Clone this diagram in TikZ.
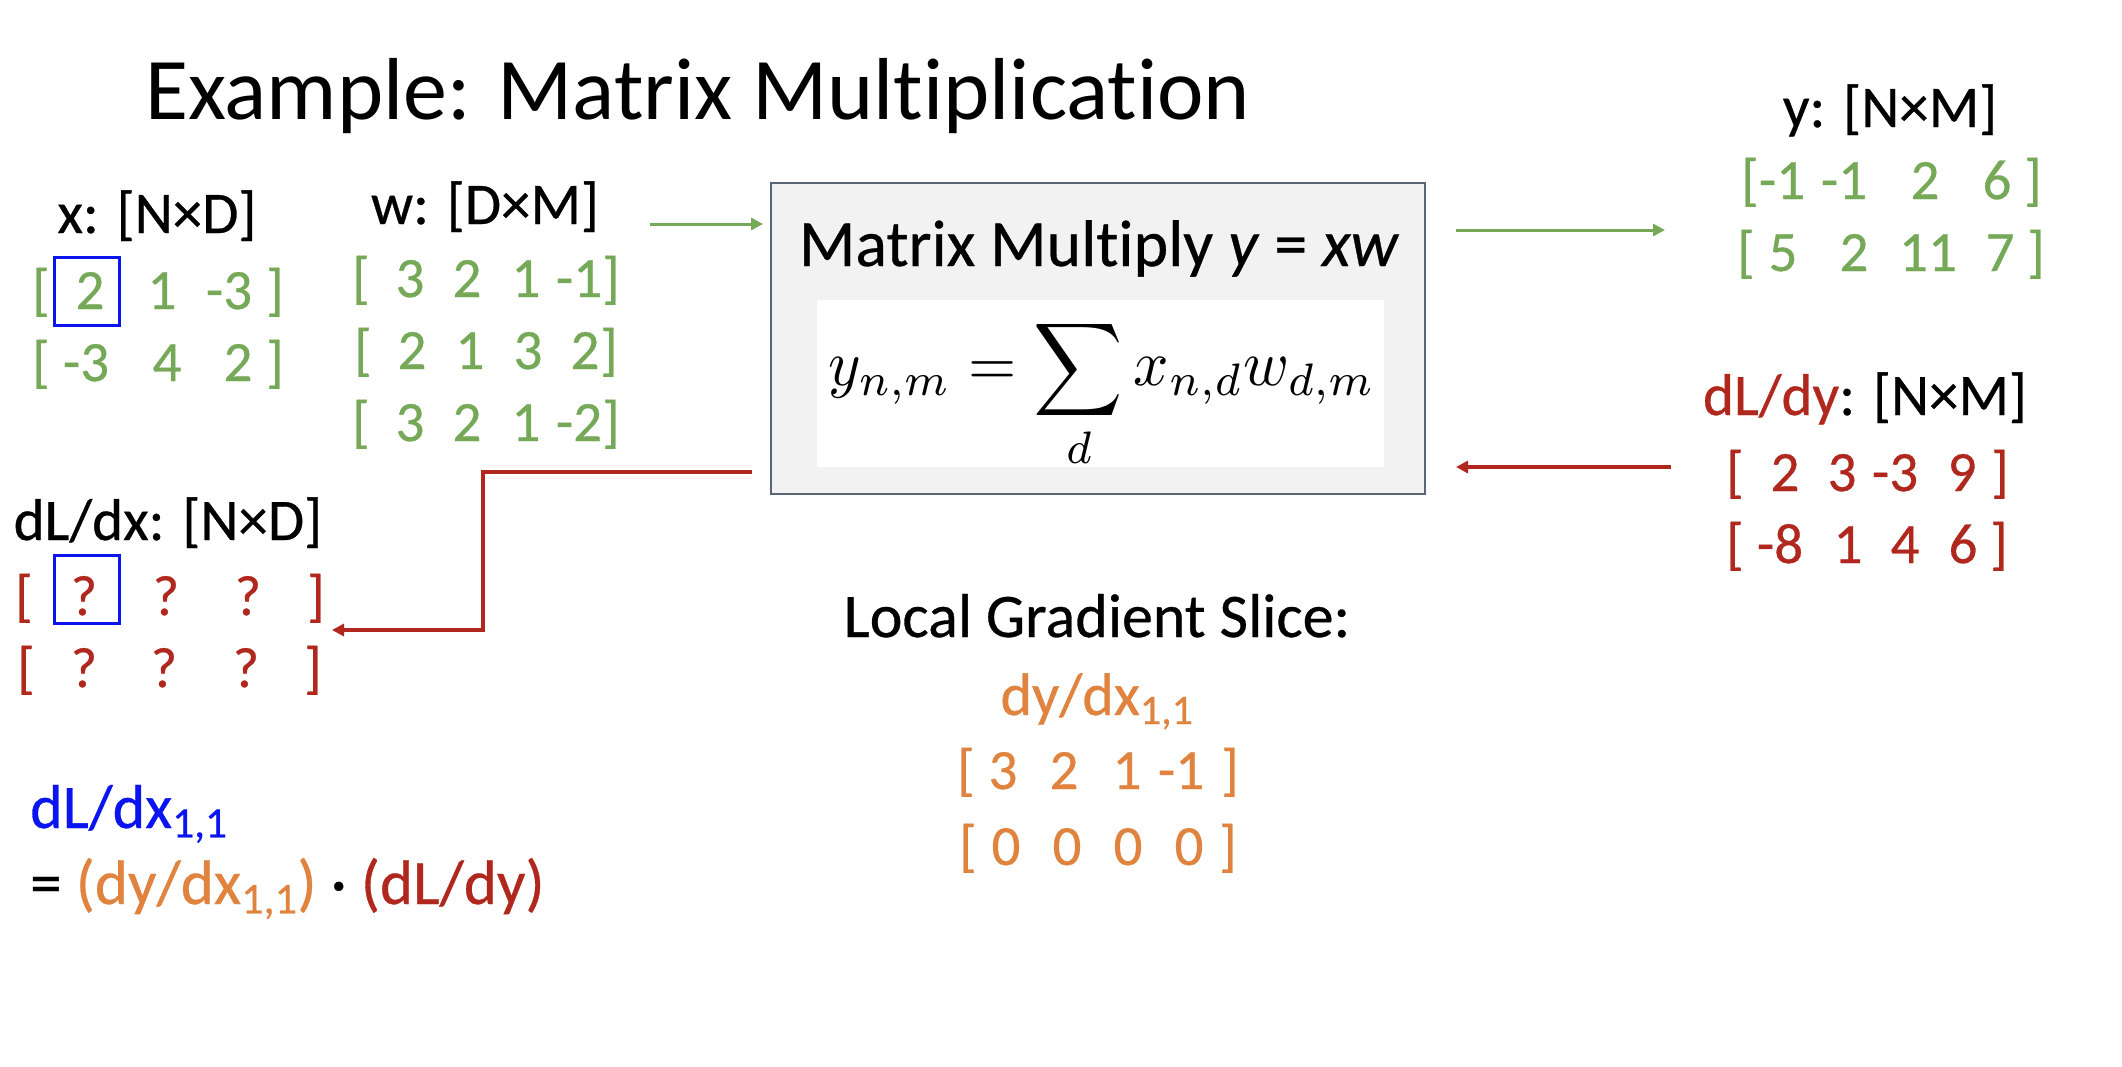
\RequirePackage{fix-cm}
\documentclass[tikz,border=0pt]{standalone}
\usepackage[no-math]{fontspec}
\setmainfont{Carlito}[Ligatures=NoCommon, FakeBold=0.5]
\newfontfamily\titlefont{Carlito}[Ligatures=NoCommon]
\usetikzlibrary{arrows.meta,positioning,calc}
\definecolor{mmgreen} {HTML}{76A957}
\definecolor{mmred}   {HTML}{B0271D}
\definecolor{mmorange}{HTML}{E0833F}
\definecolor{mmblue}  {HTML}{0A14F0}
\definecolor{mmedge}  {HTML}{5A6676}
\definecolor{mmfill}  {HTML}{F2F2F2}
\newcommand{\pxfont}[1]{\fontsize{#1}{#1}\selectfont}

\begin{document}
\begin{tikzpicture}[
  x=1pt, y=-1pt,
  lbl/.style={font=\pxfont{59}, anchor=base, inner sep=0pt},
  ent/.style={font=\pxfont{57}, anchor=base, inner sep=0pt},
  hl/.style={draw=mmblue, line width=3pt, minimum width=65pt,
             minimum height=68pt, inner sep=0pt},
  feed/.style={draw=mmgreen, line width=3pt,
               -{Triangle[length=12pt,width=12pt]}},
  back/.style={draw=mmred, line width=3.5pt,
               -{Triangle[length=12pt,width=12pt]}},
]
  \fill[white] (0,0) rectangle (2122,1066);
  \useasboundingbox (0,0) rectangle (2122,1066);

  \node[font=\titlefont\pxfont{88}, anchor=base west, inner sep=0pt] (title) at (145,119)
    {Example: Matrix Multiplication};

  % Inputs x and w.
  \node[lbl] (xlab) at (157,233) {x: [N×D]};
  \foreach \c/\px/\v in {l/41/{[}, 1/90/2, 2/162/1, 3/229/-3, r/275/{]}}
    \node[ent, mmgreen] (x-1-\c) at (\px,309) {\v};
  \foreach \c/\px/\v in {l/41/{[}, 1/86/-3, 2/167/4, 3/238/2, r/275/{]}}
    \node[ent, mmgreen] (x-2-\c) at (\px,381) {\v};
  \node[hl] (xsel) at (87,291) {};

  \node[lbl] (wlab) at (485,224) {w: [D×M]};
  \foreach \c/\px/\v in {l/361/{[}, 1/410/3, 2/467/2, 3/526/1, 4/579/-1, r/611/{]}}
    \node[ent, mmgreen] (w-1-\c) at (\px,297) {\v};
  \foreach \c/\px/\v in {l/363/{[}, 1/412/2, 2/470/1, 3/528/3, 4/585/2, r/609/{]}}
    \node[ent, mmgreen] (w-2-\c) at (\px,369) {\v};
  \foreach \c/\px/\v in {l/361/{[}, 1/410/3, 2/467/2, 3/526/1, 4/579/-2, r/611/{]}}
    \node[ent, mmgreen] (w-3-\c) at (\px,441) {\v};

  % The multiply block.
  \node[draw=mmedge, fill=mmfill, line width=2pt, minimum width=654pt,
        minimum height=311pt, inner sep=0pt] (mm) at (1098,338.5) {};
  \node[fill=white, minimum width=567pt, minimum height=167pt,
        inner sep=0pt] (mmeq) at (1100.5,383.5) {};
  \node[font=\pxfont{66}, anchor=base, inner sep=0pt] (mmtitle) at (1099,266)
    {Matrix Multiply \textit{y} = \textit{xw}};
  \node[font=\pxfont{10}, inner sep=0pt] (sumeq) at (1102,394)
    {\scalebox{6.2}[6.5]{$\displaystyle y_{n,m}=\sum_d x_{n,d}w_{d,m}$}};

  % Output y and upstream gradient.
  \node[lbl] (ylab) at (1890,127) {y: [N×M]};
  \foreach \c/\px/\v in {l/1750/{[}, 1/1782/-1, 2/1844/-1, 3/1925/2, 4/1997/6, r/2033/{]}}
    \node[ent, mmgreen] (y-1-\c) at (\px,199) {\v};
  \foreach \c/\px/\v in {l/1746/{[}, 1/1783/5, 2/1854/2, 3/1928/11, 4/2000/7, r/2036/{]}}
    \node[ent, mmgreen] (y-2-\c) at (\px,271) {\v};

  \node[lbl] (gylab) at (1865,415) {\textcolor{mmred}{dL/dy}: [N×M]};
  \foreach \c/\px/\v in {l/1735/{[}, 1/1785/2, 2/1842/3, 3/1895/-3, 4/1962/9, r/2000/{]}}
    \node[ent, mmred] (gy-1-\c) at (\px,491) {\v};
  \foreach \c/\px/\v in {l/1735/{[}, 1/1780/-8, 2/1848/1, 3/1905/4, 4/1963/6, r/1999/{]}}
    \node[ent, mmred] (gy-2-\c) at (\px,563) {\v};

  % Downstream gradient, still unknown.
  \node[lbl] (gxlab) at (168,540) {dL/dx: [N×D]};
  \foreach \c/\px/\v in {l/24/{[}, 1/84/?, 2/166/?, 3/248/?, r/316/{]}}
    \node[ent, mmred] (gx-1-\c) at (\px,615) {\v};
  \foreach \c/\px/\v in {l/26/{[}, 1/84/?, 2/164/?, 3/246/?, r/313/{]}}
    \node[ent, mmred] (gx-2-\c) at (\px,687) {\v};
  \node[hl] (gxsel) at (87,589) {};

  % Local gradient slice.
  \node[lbl, font=\pxfont{62}] (slab) at (1097,637) {Local Gradient Slice:};
  \node[lbl, font=\pxfont{60}, mmorange] (slname) at (1097,715)
    {dy/dx\textsubscript{1,1}};
  \foreach \c/\px/\v in {l/966/{[}, 1/1003/3, 2/1064/2, 3/1127/1, 4/1181/-1, r/1230/{]}}
    \node[ent, mmorange] (s-1-\c) at (\px,789) {\v};
  \foreach \c/\px/\v in {l/968/{[}, 1/1006/0, 2/1067/0, 3/1128/0, 4/1189/0, r/1228/{]}}
    \node[ent, mmorange] (s-2-\c) at (\px,865) {\v};

  % Chain rule for one element.
  \node[lbl, font=\pxfont{62}, anchor=base west, mmblue] (gxone) at (30,828)
    {dL/dx\textsubscript{1,1}};
  \node[lbl, font=\pxfont{63}, anchor=base west] (chain) at (30,904)
    {= \textcolor{mmorange}{(dy/dx\textsubscript{1,1})} · \textcolor{mmred}{(dL/dy)}};

  % Forward and backward connectors.
  \coordinate (xin)  at (650,224);
  \coordinate (yout) at (1665,230);
  \coordinate (gyin) at (1671,467);
  \coordinate (gout) at (752,472);
  \coordinate (gbend) at (483,630);
  \coordinate (gxin) at (332,630);
  \draw[feed] (xin) -- ([xshift=-7pt]mm.west |- xin);
  \draw[feed] ([xshift=30pt]mm.east |- yout) -- (yout);
  \draw[back] (gyin) -- ([xshift=30pt]mm.east |- gyin);
  \draw[back] (gout) -| (gbend) -- (gxin);
\end{tikzpicture}
\end{document}
